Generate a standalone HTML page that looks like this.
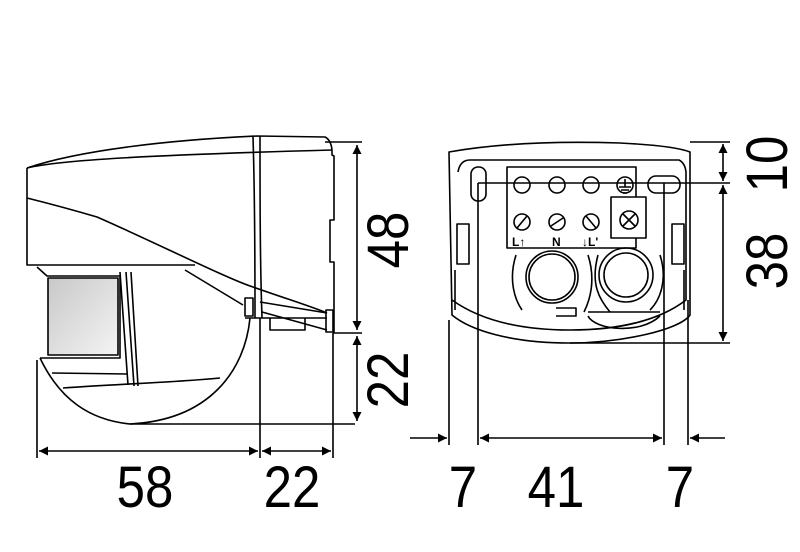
<!DOCTYPE html>
<html><head><style>
html,body{margin:0;padding:0;background:#fff;}
svg{display:block;}
text{font-family:"Liberation Sans",sans-serif;font-size:58px;fill:#000;}
</style></head><body>
<svg width="800" height="552" viewBox="0 0 800 552" xmlns="http://www.w3.org/2000/svg">
<defs>
<linearGradient id="g" x1="0" y1="0" x2="1" y2="1"><stop offset="0" stop-color="#c8c8c8"/><stop offset="1" stop-color="#f4f4f4"/></linearGradient>
<marker id="a" viewBox="0 0 10 10" refX="10" refY="5" markerWidth="20" markerHeight="9" markerUnits="userSpaceOnUse" orient="auto-start-reverse"><path d="M0,0L10,5L0,10z" fill="#000"/></marker>
</defs>
<g fill="none" stroke="#000" stroke-width="1.6" stroke-linejoin="round">
<path d="M27,168 C80,150 170,140 257,136 L325,137 Q331,140 332,150 L332,155 L334,156 L334,220 L330,220 L330,262 L334,262 L334,333"/>
<path d="M27,168 C60,160 150,155 332,150"/>
<path d="M27,168 L27,198 C55,205 80,212 97,217 C150,240 230,280 253,287 C290,300 310,306 327,313"/>
<path d="M27,198 L27,265 L195,265"/>
<path d="M37,267 L47,276 L120,276 L120,358 L47,358"/>
<rect x="48" y="278" width="70" height="77" fill="url(#g)"/>
<path d="M120,272 L128,385 M126,272 L134,386 M131,272 L138,386"/>
<path d="M185,270 L243,305"/>
<path d="M40,358 L47,358 M40,358 C60,400 90,420 130,424 L355,424"/>
<path d="M250,318 C245,370 210,420 130,424"/>
<path d="M52,373 L128,374 M63,388 C120,384 180,382 220,378"/>
<path d="M253,137 C255,200 255,260 255,318 M260,136 C260,200 260,260 262,318"/>
<path d="M245,298 L253,298 L253,316 L245,316z"/>
<path d="M245,318 L327,318 M260,302 L327,313 M262,312 L327,330"/>
<path d="M270,318 L270,330 L305,330 L305,318"/>
<path d="M326,310 L333,310 L333,332 L326,332z"/>
<path d="M325,142 L362,142 M333,333 L362,333 M37,360 L37,458 M260,318 L260,458 M333,333 L333,458"/>
<path d="M357,145 L357,330" marker-start="url(#a)" marker-end="url(#a)"/>
<path d="M357,336 L357,421" marker-start="url(#a)" marker-end="url(#a)"/>
<path d="M39,451 L258,451" marker-start="url(#a)" marker-end="url(#a)"/>
<path d="M262,451 L331,451" marker-start="url(#a)" marker-end="url(#a)"/>
<path d="M449,152 C500,143 560,141 620,143 C660,145 680,148 690,152 L690,315 C680,330 620,343 570,343 C510,343 470,330 452,315 L449,152z"/>
<path d="M458,172 Q460,160 470,160 L679,160 Q685,163 686,172 L686,300 C660,320 620,330 570,330 C520,330 480,320 452,300"/>
<path d="M455,270 L455,310 M684,270 L684,310"/>
<rect x="507" y="167" width="129" height="81"/>
<circle cx="522" cy="185" r="8"/><circle cx="557" cy="185" r="8"/><circle cx="591" cy="185" r="8"/><circle cx="625" cy="185" r="8"/>
<path d="M619,187 L631,187 M625,179 L625,187 M621,190 L629,190 M623,193 L627,193"/>
<circle cx="522" cy="222" r="8"/><path d="M517,228 L527,216"/>
<circle cx="557" cy="222" r="8"/><path d="M551,226 L563,218"/>
<circle cx="591" cy="222" r="8"/><path d="M586,216 L596,228"/>
<rect x="611" y="197" width="35" height="41" fill="#fff"/>
<circle cx="629" cy="220" r="9"/><path d="M623,214 L635,226 M635,214 L623,226"/>
<rect x="471" y="167" width="15" height="34" rx="7"/>
<rect x="648" y="176" width="32" height="17" rx="8"/>
<rect x="457" y="224" width="12" height="40"/><rect x="672" y="224" width="12" height="40"/>
<circle cx="552" cy="277" r="23"/><circle cx="552" cy="277" r="26"/>
<circle cx="626" cy="275" r="22"/><circle cx="626" cy="275" r="27"/>
<path d="M516,255 C508,280 515,300 522,310 M588,255 C596,280 590,300 584,312 M598,255 C590,285 600,300 610,312 M660,255 C668,280 660,300 650,310"/>
<path d="M556,308 L576,308 L576,316 L556,316 M588,312 L660,312 M588,316 C595,330 640,335 660,316"/>
<path d="M690,142 L730,142 M478,183 L730,183 M570,343 L730,343"/>
<path d="M449,320 L449,445 M478,183 L478,445 M664,183 L664,445 M688,300 L688,445"/>
<path d="M723,144 L723,181" marker-start="url(#a)" marker-end="url(#a)"/>
<path d="M723,185 L723,341" marker-start="url(#a)" marker-end="url(#a)"/>
<path d="M410,438 L447,438" marker-end="url(#a)"/>
<path d="M480,438 L662,438" marker-start="url(#a)" marker-end="url(#a)"/>
<path d="M725,438 L690,438" marker-end="url(#a)"/>
</g>
<text x="512" y="246" style="font-size:12px;font-weight:bold">L↑</text>
<text x="552" y="246" style="font-size:12px;font-weight:bold">N</text>
<text x="582" y="246" style="font-size:12px;font-weight:bold">↓L'</text>
<g>
<text transform="translate(145,507) scale(0.88,1)" text-anchor="middle">58</text>
<text transform="translate(292,507) scale(0.88,1)" text-anchor="middle">22</text>
<text transform="translate(463,507) scale(0.88,1)" text-anchor="middle">7</text>
<text transform="translate(556,507) scale(0.88,1)" text-anchor="middle">41</text>
<text transform="translate(680,507) scale(0.88,1)" text-anchor="middle">7</text>
<text transform="translate(408,240) rotate(-90) scale(0.88,1)" text-anchor="middle">48</text>
<text transform="translate(408,380) rotate(-90) scale(0.88,1)" text-anchor="middle">22</text>
<text transform="translate(787,164) rotate(-90) scale(0.88,1)" text-anchor="middle">10</text>
<text transform="translate(787,261) rotate(-90) scale(0.88,1)" text-anchor="middle">38</text>
</g>
</svg>
</body></html>
